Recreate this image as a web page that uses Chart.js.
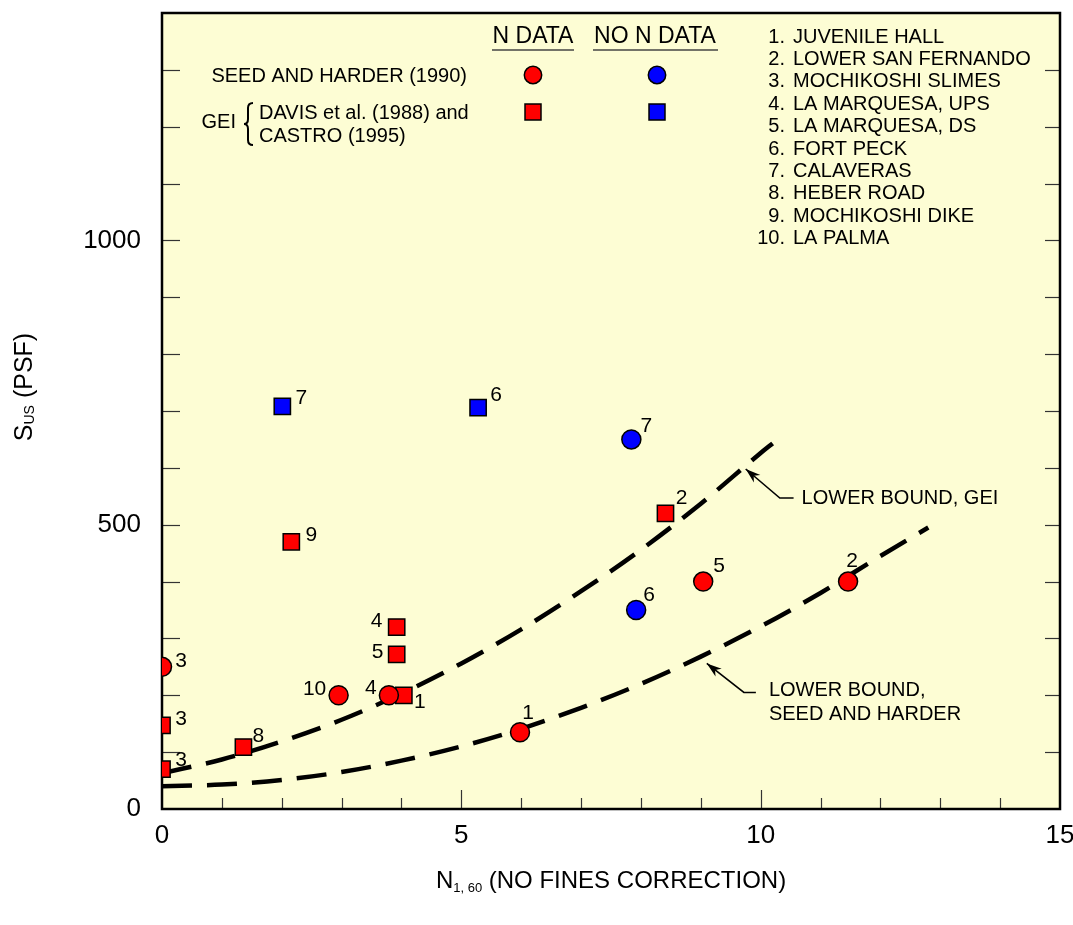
<!DOCTYPE html>
<html>
<head>
<meta charset="utf-8">
<script src="https://cdn.jsdelivr.net/npm/chart.js@4.4.1/dist/chart.umd.min.js"></script>
<style>
  html, body { margin: 0; padding: 0; background: #fff; }
</style>
</head>
<body>
<canvas id="grafica" width="1073" height="925"></canvas>
<script>
// datos
const seedNX = [0, 2.95, 3.79, 5.98, 9.04, 11.46];
const seedNY = [250, 200, 200, 135, 400, 400];
const seedNEtiq = ['3', '10', '4', '1', '5', '2'];

const seedNoNX = [7.84, 7.92];
const seedNoNY = [650, 350];
const seedNoNEtiq = ['7', '6'];

const geiNX = [0, 0, 1.36, 3.92, 3.92, 4.04, 2.16, 8.41];
const geiNY = [147, 70, 109, 320, 272, 200, 470, 520];
const geiNEtiq = ['3', '3', '8', '4', '5', '1', '9', '2'];

const geiNoNX = [2.01, 5.28];
const geiNoNY = [708, 706];
const geiNoNEtiq = ['7', '6'];

const limiteGeiX = [0, 1, 2, 3, 4, 5, 6, 7, 8, 9, 10, 10.2];
const limiteGeiY = [63, 87, 119, 157, 203, 256, 316, 383, 456, 537, 626, 643];

const limiteSeedX = [0, 1, 2, 3, 4, 5, 6, 7, 8, 9, 10, 11, 12, 12.8];
const limiteSeedY = [40, 43, 51, 65, 85, 110, 141, 178, 220, 268, 321, 380, 445, 495];

const xTicks = [0, 5, 10, 15];
const yTicks = [0, 500, 1000];
const xMenores = [1, 2, 3, 4, 5, 6, 7, 8, 9, 10, 11, 12, 13, 14];
const yMenores = [100, 200, 300, 400, 500, 600, 700, 800, 900, 1000, 1100, 1200, 1300];

const sitios = ['JUVENILE HALL', 'LOWER SAN FERNANDO', 'MOCHIKOSHI SLIMES', 'LA MARQUESA, UPS',
  'LA MARQUESA, DS', 'FORT PECK', 'CALAVERAS', 'HEBER ROAD', 'MOCHIKOSHI DIKE', 'LA PALMA'];

// desplazamiento de cada numero respecto a su punto (px)
const seedNDesp = [[19, -6], [-24, -6], [-18, -7], [8, -19], [16, -15], [4, -20]];
const seedNoNDesp = [[15, -13], [13, -15]];
const geiNDesp = [[19, -6], [19, -9], [15, -11], [-20, -6], [-19, -2], [16, 7], [20, -7], [16, -15]];
const geiNoNDesp = [[19, -8], [18, -12]];

const fuente = '"Liberation Sans", Arial, sans-serif';
Chart.defaults.font.family = fuente;
Chart.defaults.color = '#000';

const juntar = (xs, ys) => xs.map((x, i) => ({ x: x, y: ys[i] }));

function linea(ctx, x1, y1, x2, y2) {
    ctx.beginPath();
    ctx.moveTo(x1, y1);
    ctx.lineTo(x2, y2);
    ctx.stroke();
}

function flecha(ctx, xa, ya, xb, yb, xc, yc) {
    // de a (texto) a b (codo) a c (punta)
    ctx.lineWidth = 1.6;
    ctx.beginPath();
    ctx.moveTo(xa, ya);
    ctx.lineTo(xb, yb);
    ctx.lineTo(xc, yc);
    ctx.stroke();
    const ang = Math.atan2(yc - yb, xc - xb);
    const largo = 15, ancho = 5;
    ctx.beginPath();
    ctx.moveTo(xc, yc);
    ctx.lineTo(xc - largo * Math.cos(ang) + ancho * Math.sin(ang), yc - largo * Math.sin(ang) - ancho * Math.cos(ang));
    ctx.lineTo(xc - largo * 0.7 * Math.cos(ang), yc - largo * 0.7 * Math.sin(ang));
    ctx.lineTo(xc - largo * Math.cos(ang) - ancho * Math.sin(ang), yc - largo * Math.sin(ang) + ancho * Math.cos(ang));
    ctx.closePath();
    ctx.fill();
}

function marcador(ctx, tipo, x, y, color) {
    ctx.fillStyle = color;
    ctx.strokeStyle = '#000';
    ctx.lineWidth = 1.5;
    ctx.beginPath();
    if (tipo === 'circle') {
        ctx.arc(x, y, 8.7, 0, Math.PI * 2);
    } else {
        ctx.rect(x - 8, y - 8, 16, 16);
    }
    ctx.fill();
    ctx.stroke();
}

const decorado = {
    id: 'decorado',
    beforeDraw(chart) {
        const { ctx, chartArea: a } = chart;
        ctx.save();
        ctx.fillStyle = '#FDFDD4';
        ctx.fillRect(a.left, a.top, a.right - a.left, a.bottom - a.top);
        ctx.restore();
    },
    beforeDatasetsDraw(chart) {
        const { ctx, chartArea: a, scales } = chart;
        ctx.save();
        ctx.strokeStyle = '#333';
        ctx.lineWidth = 1.2;
        yMenores.forEach(v => {
            const py = Math.round(scales.y.getPixelForValue(v)) + 0.5;
            linea(ctx, a.left, py, a.left + 18, py);
            linea(ctx, a.right - 15, py, a.right, py);
        });
        xMenores.forEach(v => {
            const px = Math.round(scales.x.getPixelForValue(v)) + 0.5;
            const largo = v % 5 === 0 ? 19 : 11;
            linea(ctx, px, a.bottom, px, a.bottom - largo);
        });
        ctx.strokeStyle = '#000';
        ctx.lineWidth = 2.5;
        ctx.strokeRect(a.left, a.top, a.right - a.left, a.bottom - a.top);
        ctx.restore();
    },
    afterDatasetsDraw(chart) {
        const { ctx } = chart;
        ctx.save();
        ctx.font = '21px ' + fuente;
        ctx.fillStyle = '#000';
        ctx.textAlign = 'center';
        ctx.textBaseline = 'middle';
        chart.data.datasets.forEach((ds, i) => {
            if (!ds.etiquetas) return;
            const meta = chart.getDatasetMeta(i);
            meta.data.forEach((p, j) => {
                const d = ds.desp[j];
                ctx.fillText(ds.etiquetas[j], p.x + d[0], p.y + d[1]);
            });
        });
        ctx.restore();
    },
    afterDraw(chart) {
        const { ctx, scales } = chart;
        const sx = v => scales.x.getPixelForValue(v);
        const sy = v => scales.y.getPixelForValue(v);
        ctx.save();
        ctx.fillStyle = '#000';
        ctx.textBaseline = 'middle';

        // encabezados de la leyenda
        ctx.font = '23px ' + fuente;
        ctx.textAlign = 'center';
        ctx.fillText('N DATA', 533, 37);
        ctx.fillText('NO N DATA', 655, 37);
        ctx.strokeStyle = '#444';
        ctx.lineWidth = 1.6;
        linea(ctx, 492, 50, 574, 50);
        linea(ctx, 593, 50, 718, 50);

        ctx.font = '20px ' + fuente;
        ctx.textAlign = 'right';
        ctx.fillText('SEED AND HARDER (1990)', 467, 76);
        ctx.fillText('GEI', 236, 122);
        ctx.textAlign = 'left';
        ctx.fillText('DAVIS et al. (1988) and', 259, 113);
        ctx.fillText('CASTRO (1995)', 259, 136);

        // llave
        ctx.strokeStyle = '#000';
        ctx.lineWidth = 2;
        ctx.beginPath();
        ctx.moveTo(253, 103);
        ctx.quadraticCurveTo(248, 103, 248, 108);
        ctx.lineTo(248, 119);
        ctx.quadraticCurveTo(248, 124, 244, 124);
        ctx.quadraticCurveTo(248, 124, 248, 129);
        ctx.lineTo(248, 140);
        ctx.quadraticCurveTo(248, 145, 253, 145);
        ctx.stroke();

        marcador(ctx, 'circle', 533, 75, '#ff0000');
        marcador(ctx, 'circle', 657, 75, '#0000ff');
        marcador(ctx, 'rect', 533, 112, '#ff0000');
        marcador(ctx, 'rect', 657, 112, '#0000ff');

        // lista de sitios
        ctx.fillStyle = '#000';
        ctx.font = '20px ' + fuente;
        sitios.forEach((s, i) => {
            const yy = 37 + i * 22.4;
            ctx.textAlign = 'right';
            ctx.fillText((i + 1) + '.', 785, yy);
            ctx.textAlign = 'left';
            ctx.fillText(s, 793, yy);
        });

        // anotaciones de las curvas
        ctx.strokeStyle = '#000';
        ctx.fillStyle = '#000';
        flecha(ctx, sx(10.55), sy(547), sx(10.32), sy(547), sx(9.75), sy(598));
        flecha(ctx, sx(9.92), sy(205), sx(9.72), sy(205), sx(9.1), sy(256));
        ctx.font = '20px ' + fuente;
        ctx.textAlign = 'left';
        ctx.fillText('LOWER BOUND, GEI', sx(10.55) + 8, sy(547));
        ctx.fillText('LOWER BOUND,', sx(9.92) + 13, sy(205) - 2);
        ctx.fillText('SEED AND HARDER', sx(9.92) + 13, sy(205) + 22);

        // titulo eje y con subindice
        ctx.save();
        ctx.translate(25, 387);
        ctx.rotate(-Math.PI / 2);
        ctx.font = '25px ' + fuente;
        const wS = ctx.measureText('S').width;
        const wR = ctx.measureText(' (PSF)').width;
        ctx.font = '14px ' + fuente;
        const wU = ctx.measureText('US').width;
        let x0 = -(wS + wU + wR) / 2;
        ctx.textAlign = 'left';
        ctx.font = '25px ' + fuente;
        ctx.fillText('S', x0, 0);
        ctx.font = '14px ' + fuente;
        ctx.fillText('US', x0 + wS, 5);
        ctx.font = '25px ' + fuente;
        ctx.fillText(' (PSF)', x0 + wS + wU, 0);
        ctx.restore();

        // titulo eje x con subindice
        const cx = (chart.chartArea.left + chart.chartArea.right) / 2;
        ctx.font = '24px ' + fuente;
        const wN = ctx.measureText('N').width;
        const wT = ctx.measureText(' (NO FINES CORRECTION)').width;
        ctx.font = '13px ' + fuente;
        const wSub = ctx.measureText('1, 60').width;
        let xx = cx - (wN + wSub + wT) / 2;
        ctx.textAlign = 'left';
        ctx.font = '24px ' + fuente;
        ctx.fillText('N', xx, 881);
        ctx.font = '13px ' + fuente;
        ctx.fillText('1, 60', xx + wN, 888);
        ctx.font = '24px ' + fuente;
        ctx.fillText(' (NO FINES CORRECTION)', xx + wN + wSub, 881);

        ctx.restore();
    }
};

const puntoBase = { borderColor: '#000', pointBorderWidth: 1.5, showLine: false };

new Chart(document.getElementById('grafica'), {
    type: 'scatter',
    data: {
        datasets: [
            Object.assign({ label: 'SEED AND HARDER (1990), N DATA', data: juntar(seedNX, seedNY),
                pointStyle: 'circle', pointRadius: 9.5, backgroundColor: '#ff0000',
                etiquetas: seedNEtiq, desp: seedNDesp }, puntoBase),
            Object.assign({ label: 'SEED AND HARDER (1990), NO N DATA', data: juntar(seedNoNX, seedNoNY),
                pointStyle: 'circle', pointRadius: 9.5, backgroundColor: '#0000ff',
                etiquetas: seedNoNEtiq, desp: seedNoNDesp }, puntoBase),
            Object.assign({ label: 'GEI, N DATA', data: juntar(geiNX, geiNY),
                pointStyle: 'rect', pointRadius: 11.5, backgroundColor: '#ff0000',
                etiquetas: geiNEtiq, desp: geiNDesp }, puntoBase),
            Object.assign({ label: 'GEI, NO N DATA', data: juntar(geiNoNX, geiNoNY),
                pointStyle: 'rect', pointRadius: 11.5, backgroundColor: '#0000ff',
                etiquetas: geiNoNEtiq, desp: geiNoNDesp }, puntoBase),
            {
                label: 'LOWER BOUND, GEI', data: juntar(limiteGeiX, limiteGeiY),
                showLine: true, pointRadius: 0, borderColor: '#000', borderWidth: 4.5,
                borderDash: [30, 15], cubicInterpolationMode: 'monotone', fill: false, order: 5
            },
            {
                label: 'LOWER BOUND, SEED AND HARDER', data: juntar(limiteSeedX, limiteSeedY),
                showLine: true, pointRadius: 0, borderColor: '#000', borderWidth: 4.5,
                borderDash: [30, 15], cubicInterpolationMode: 'monotone', fill: false, order: 5
            }
        ]
    },
    options: {
        responsive: false,
        animation: false,
        devicePixelRatio: 1,
        events: [],
        layout: { padding: { left: 0, top: 10, right: 9, bottom: 0 } },
        plugins: { legend: { display: false }, tooltip: { enabled: false } },
        scales: {
            x: {
                type: 'linear', min: 0, max: 15,
                grid: { display: false, drawTicks: false },
                border: { display: false },
                ticks: { font: { size: 26 }, padding: 11, maxRotation: 0, callback: v => String(v) },
                afterBuildTicks: s => { s.ticks = xTicks.map(v => ({ value: v })); },
                afterFit: s => { s.height = 116; s.paddingLeft = 0; s.paddingRight = 0; }
            },
            y: {
                type: 'linear', min: 0, max: 1400,
                grid: { display: false, drawTicks: false },
                border: { display: false },
                ticks: { font: { size: 26 }, padding: 21, callback: v => String(v) },
                afterBuildTicks: s => { s.ticks = yTicks.map(v => ({ value: v })); },
                afterFit: s => { s.width = 162; s.paddingTop = 0; s.paddingBottom = 0; }
            }
        }
    },
    plugins: [decorado]
});
</script>
</body>
</html>
